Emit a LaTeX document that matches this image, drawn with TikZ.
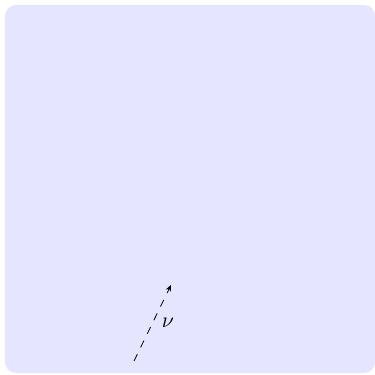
\documentclass[tikz,border=0pt]{standalone}
\usetikzlibrary{arrows.meta}
\tikzset{
  bgbox/.style={fill=blue!10, draw=none, rounded corners=6pt},
  vecline/.style={dash pattern=on 4.2pt off 4.2pt, -{Stealth[length=3.5pt,width=3pt]}, line width=0.45pt},
  veclabel/.style={right, inner sep=0pt, xshift=5pt, scale=1.2}
}
\begin{document}
\begin{tikzpicture}[x=0.01951cm, y=-0.01951cm]
\useasboundingbox (0,0) rectangle (375,374);
\fill[bgbox] (5,5) rectangle (375,373);
\coordinate (s) at (134,361);
\coordinate (t) at (171,285);
\draw[vecline] (s) -- node[veclabel] {$\nu$} (t);
\end{tikzpicture}
\end{document}
